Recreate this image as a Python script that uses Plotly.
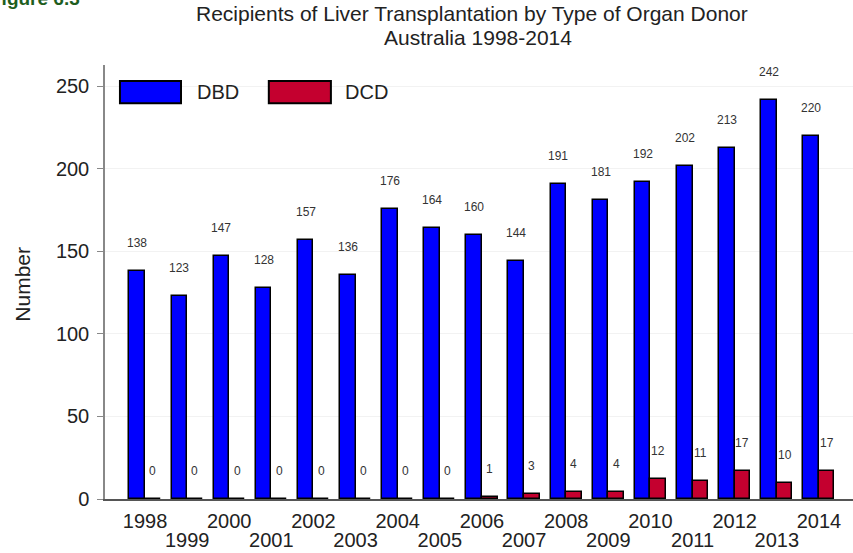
import plotly.graph_objects as go

years = list(range(1998, 2015))
dbd = [138, 123, 147, 128, 157, 136, 176, 164, 160, 144, 191, 181, 192, 202, 213, 242, 220]
dcd = [0, 0, 0, 0, 0, 0, 0, 0, 1, 3, 4, 4, 12, 11, 17, 10, 17]
even_years = [y for y in years if y % 2 == 0]
odd_years = [y for y in years if y % 2 == 1]
y_ticks = [0, 50, 100, 150, 200, 250]

BLUE = "#0000FF"
RED = "#C4002F"
TXT = "#222222"
W = 0.37
FONT = "Liberation Sans, Arial, sans-serif"

fig = go.Figure()
fig.add_trace(go.Bar(x=years, y=dbd, name="DBD", width=W, offset=-W,
                     marker=dict(color=BLUE, line=dict(color="#000000", width=1.5)),
                     showlegend=False))
fig.add_trace(go.Bar(x=years, y=dcd, name="DCD", width=W, offset=0,
                     marker=dict(color=RED, line=dict(color="#000000", width=1.5)),
                     showlegend=False))
# invisible trace to carry the second (staggered) tick-label row
fig.add_trace(go.Scatter(x=years, y=dcd, xaxis="x2", mode="none", showlegend=False,
                         hoverinfo="skip"))

ann = []
for yr, v in zip(years, dbd):
    ann.append(dict(x=yr - W / 2, y=v, xref="x", yref="y", text=str(v), showarrow=False,
                    yshift=28, font=dict(size=12, color="#333333")))
for yr, v in zip(years, dcd):
    ann.append(dict(x=yr + W / 2, y=v, xref="x", yref="y", text=str(v), showarrow=False,
                    yshift=28, font=dict(size=12, color="#333333")))

ann.append(dict(x=0.4906, y=(499 - 13.5) / 434, xref="paper", yref="paper", yanchor="middle",
                text="Recipients of Liver Transplantation by Type of Organ Donor",
                showarrow=False, font=dict(size=21, color=TXT)))
ann.append(dict(x=0.4987, y=(499 - 37.5) / 434, xref="paper", yref="paper", yanchor="middle",
                text="Australia 1998-2014",
                showarrow=False, font=dict(size=21, color=TXT)))
ann.append(dict(x=-0.1283, y=0.495, xref="paper", yref="paper", text="Number", textangle=-90,
                showarrow=False, font=dict(size=21, color=TXT)))
ann.append(dict(x=-0.1564, y=(499 - 11) / 434, xref="paper", yref="paper", xanchor="left",
                yanchor="bottom", text="<b>Figure 6.3</b>", showarrow=False,
                font=dict(size=19, color="#1E5E1E")))
# legend labels
ann.append(dict(x=0.120, y=0.938, xref="paper", yref="paper", xanchor="left", yanchor="middle",
                text="DBD", showarrow=False, font=dict(size=20, color=TXT)))
ann.append(dict(x=0.318, y=0.938, xref="paper", yref="paper", xanchor="left", yanchor="middle",
                text="DCD", showarrow=False, font=dict(size=20, color=TXT)))

shapes = [
    dict(type="rect", xref="paper", yref="paper", x0=0.020, x1=0.1016, y0=0.912, y1=0.963,
         fillcolor=BLUE, line=dict(color="#000000", width=2)),
    dict(type="rect", xref="paper", yref="paper", x0=0.219, x1=0.302, y0=0.912, y1=0.963,
         fillcolor=RED, line=dict(color="#000000", width=2)),
]

xr = [1997.05, 2014.81]
fig.update_layout(
    width=853, height=553,
    margin=dict(l=105, r=0, t=65, b=54),
    paper_bgcolor="white", plot_bgcolor="white",
    font=dict(family=FONT, color=TXT),
    annotations=ann, shapes=shapes,
    bargap=0,
    xaxis=dict(range=xr, tickmode="array", tickvals=even_years,
               ticktext=[str(y) for y in even_years],
               showgrid=False, showline=True, linecolor="#555555", linewidth=1.5,
               ticks="", ticklabelstandoff=3,
               tickfont=dict(size=20, color=TXT), zeroline=False),
    xaxis2=dict(range=xr, overlaying="x", anchor="y", side="bottom", tickmode="array",
                tickvals=odd_years, ticktext=[str(y) for y in odd_years],
                showgrid=False, showline=False, ticks="", ticklabelstandoff=27,
                tickfont=dict(size=20, color=TXT), zeroline=False),
    yaxis=dict(range=[0, 263], tickvals=y_ticks, showgrid=True,
               gridcolor="#F2F2F2", gridwidth=1, showline=True, linecolor="#888888",
               linewidth=1.5, ticks="outside", ticklen=6, tickcolor="#888888",
               ticklabelstandoff=4,
               tickfont=dict(size=20, color=TXT), zeroline=False),
)

fig.write_html("out.html", config={"displayModeBar": False},
               post_script="document.body.style.margin='0';")
